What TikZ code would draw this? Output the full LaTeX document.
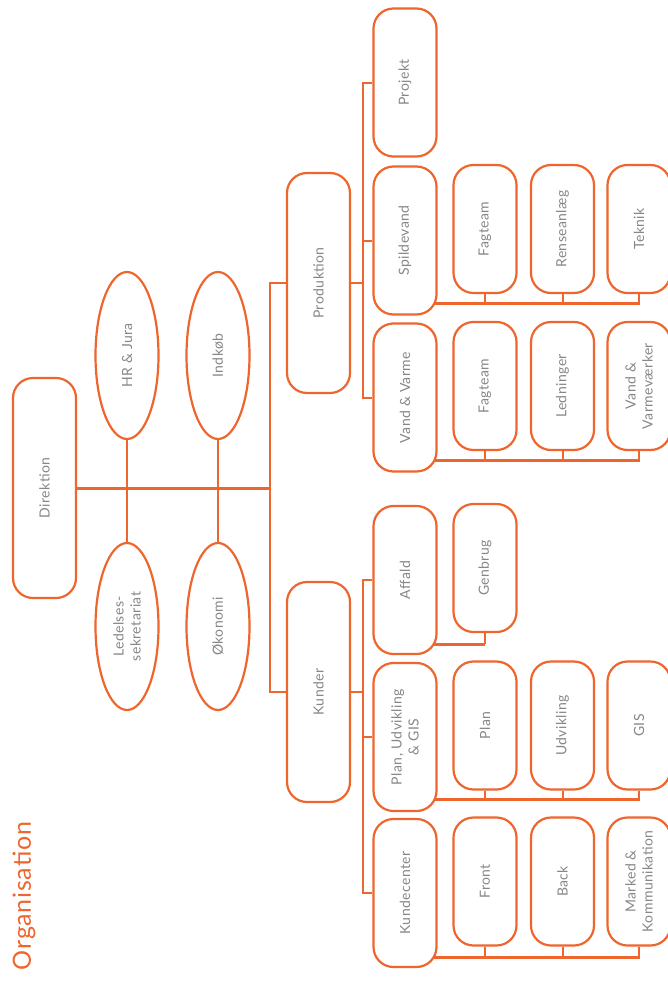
\documentclass[tikz,border=0pt]{standalone}
\usepackage{fontspec}
\setmainfont{Lato}[LetterSpace=3]
\usetikzlibrary{shapes.geometric,backgrounds}

\definecolor{orgorange}{RGB}{238,102,45}
\definecolor{orggray}{RGB}{135,135,135}

\tikzset{
  orgbox/.style={draw=orgorange, line width=2.2pt, fill=white, rounded corners=20pt,
    rotate=90, minimum height=63pt, inner sep=2pt, text=orggray, align=center,
    font=\fontsize{14}{17}\selectfont},
  topbox/.style={orgbox, minimum width=220pt},
  unitbox/.style={orgbox, minimum width=148pt},
  teambox/.style={orgbox, minimum width=128pt},
  staff/.style={ellipse, draw=orgorange, line width=2.2pt, fill=white, rotate=90,
    minimum width=167pt, minimum height=63pt, inner sep=0pt, text=orggray, align=center,
    font=\fontsize{14}{17}\selectfont},
  title/.style={rotate=90, text=orgorange, font=\fontsize{25}{28}\selectfont},
  link/.style={draw=orgorange, line width=2pt},
  mainline/.style={draw=orgorange, line width=3pt},
  bus/.style={draw=orgorange, line width=3pt}
}

\begin{document}
\begin{tikzpicture}[x=1pt, y=-1pt]
\useasboundingbox (0,0) rectangle (668,982);

% Title
\node[title] (ttl) at (24,896) {Organisation};

% Management
\node[topbox] (dir) at (44.5,488) {Direktion};

% Staff functions
\node[staff] (hr) at (127,355.5) {HR \& Jura};
\node[staff] (led) at (127,626.5) {Ledelses-\\sekretariat};
\node[staff] (ind) at (218,355.5) {Indkøb};
\node[staff] (oko) at (218,626.5) {Økonomi};

% Divisions
\node[topbox] (prod) at (318.5,283) {Produktion};
\node[topbox] (kund) at (318.5,692) {Kunder};

% Production units and teams
\node[unitbox] (proj) at (405,82.5) {Projekt};
\node[unitbox] (spv) at (405,240.5) {Spildevand};
\node[unitbox] (vvm) at (405,397.5) {Vand \& Varme};
\node[teambox] (spv1) at (485,229) {Fagteam};
\node[teambox] (spv2) at (562.5,229) {Renseanlæg};
\node[teambox] (spv3) at (639,229) {Teknik};
\node[teambox] (vvm1) at (485,386) {Fagteam};
\node[teambox] (vvm2) at (562.5,386) {Ledninger};
\node[teambox] (vvm3) at (639,386) {Vand \&\\Varmeværker};

% Customer units and teams
\node[unitbox] (aff) at (405,580) {Affald};
\node[unitbox] (pug) at (405,737) {Plan, Udvikling\\\& GIS};
\node[unitbox] (kc) at (405,893) {Kundecenter};
\node[teambox] (aff1) at (485,568) {Genbrug};
\node[teambox] (pug1) at (485,725.5) {Plan};
\node[teambox] (pug2) at (562.5,725.5) {Udvikling};
\node[teambox] (pug3) at (639,725.5) {GIS};
\node[teambox] (kc1) at (485,881.5) {Front};
\node[teambox] (kc2) at (562.5,881.5) {Back};
\node[teambox] (kc3) at (639,881.5) {Marked \&\\Kommunikation};

% Connectors
\coordinate (hub) at (270,488);
\coordinate (pspine) at (363,283);
\coordinate (kspine) at (363,692);
\coordinate (spvbus) at (640,303);
\coordinate (vvmbus) at (640,460);
\coordinate (affbus) at (485,644);
\coordinate (pugbus) at (640,799);
\coordinate (kcbus) at (640,957);

\begin{scope}[on background layer]
\draw[mainline] (dir) -- (hub);
\draw[link] (hr) -- (led);
\draw[link] (ind) -- (oko);
\draw[link] (prod) -- (prod -| hub) -- (kund -| hub) -- (kund);

% Division to units
\draw[link] (prod) -- (pspine);
\draw[link] (proj) -- (proj -| pspine) -- (vvm -| pspine) -- (vvm);
\draw[link] (spv) -- (spv -| pspine);
\draw[link] (kund) -- (kspine);
\draw[link] (aff) -- (aff -| kspine) -- (kc -| kspine) -- (kc);
\draw[link] (pug) -- (pug -| kspine);

% Units to teams
\draw[bus] (spv.center |- spvbus) -- (spvbus);
\draw[bus] (vvm.center |- vvmbus) -- (vvmbus);
\draw[bus] (aff.center |- affbus) -- (affbus);
\draw[bus] (pug.center |- pugbus) -- (pugbus);
\draw[bus] (kc.center |- kcbus) -- (kcbus);
\foreach \t in {spv1,spv2,spv3} \draw[link] (\t) -- (\t |- spvbus);
\foreach \t in {vvm1,vvm2,vvm3} \draw[link] (\t) -- (\t |- vvmbus);
\draw[link] (aff1) -- (aff1 |- affbus);
\foreach \t in {pug1,pug2,pug3} \draw[link] (\t) -- (\t |- pugbus);
\foreach \t in {kc1,kc2,kc3} \draw[link] (\t) -- (\t |- kcbus);
\end{scope}

\end{tikzpicture}
\end{document}
